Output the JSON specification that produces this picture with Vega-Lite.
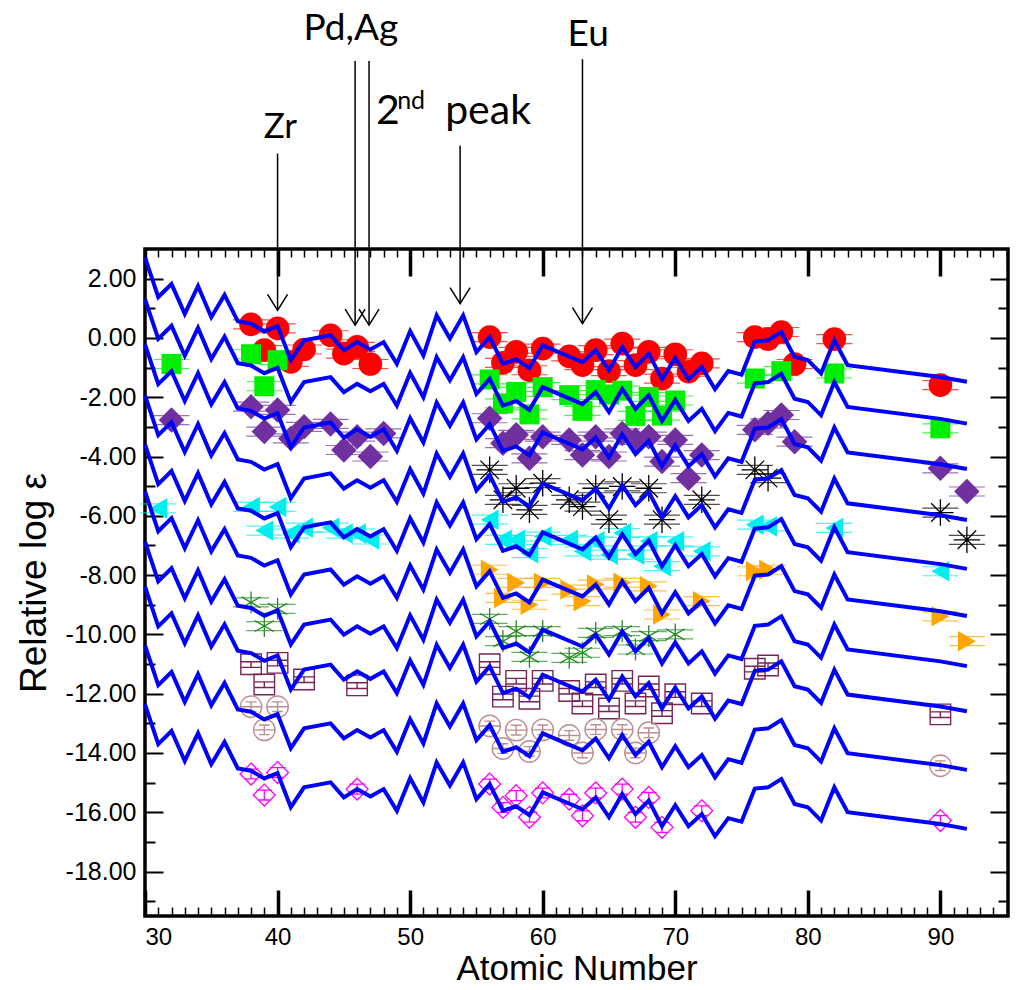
{
  "$schema": "https://vega.github.io/schema/vega-lite/v6.json",
  "width": 863,
  "height": 667,
  "autosize": {"type": "none"},
  "padding": {"left": 145, "top": 249, "right": 25, "bottom": 74},
  "background": "white",
  "config": {
    "view": {"stroke": "black", "strokeWidth": 3.5},
    "axis": {"grid": false, "domain": false, "tickColor": "black", "labelColor": "black", "titleColor": "black", "labelFont": "Liberation Sans", "titleFont": "Liberation Sans", "titleFontWeight": "normal"}
  },
  "resolve": {"axis": {"x": "independent", "y": "independent"}},
  "datasets": {
    "model": [
      {"Z":30,"c1":2.72,"c2":1.31,"c3":-0.22,"c4":-1.94,"c5":-3.59,"c6":-5.18,"c7":-6.87,"c8":-8.39,"c9":-10.37,"c10":-12.36},
      {"Z":31,"c1":1.38,"c2":-0.03,"c3":-1.56,"c4":-3.28,"c5":-4.93,"c6":-6.52,"c7":-8.21,"c8":-9.73,"c9":-11.71,"c10":-13.70},
      {"Z":32,"c1":1.82,"c2":0.41,"c3":-1.12,"c4":-2.84,"c5":-4.49,"c6":-6.08,"c7":-7.77,"c8":-9.29,"c9":-11.27,"c10":-13.26},
      {"Z":33,"c1":0.81,"c2":-0.60,"c3":-2.13,"c4":-3.85,"c5":-5.50,"c6":-7.09,"c7":-8.78,"c8":-10.30,"c9":-12.28,"c10":-14.27},
      {"Z":34,"c1":1.75,"c2":0.34,"c3":-1.19,"c4":-2.91,"c5":-4.56,"c6":-6.15,"c7":-7.84,"c8":-9.36,"c9":-11.34,"c10":-13.33},
      {"Z":35,"c1":0.70,"c2":-0.71,"c3":-2.24,"c4":-3.96,"c5":-5.61,"c6":-7.20,"c7":-8.89,"c8":-10.41,"c9":-12.39,"c10":-14.38},
      {"Z":36,"c1":1.45,"c2":0.04,"c3":-1.49,"c4":-3.21,"c5":-4.86,"c6":-6.45,"c7":-8.14,"c8":-9.66,"c9":-11.64,"c10":-13.63},
      {"Z":37,"c1":0.56,"c2":-0.85,"c3":-2.38,"c4":-4.10,"c5":-5.75,"c6":-7.34,"c7":-9.03,"c8":-10.55,"c9":-12.53,"c10":-14.52},
      {"Z":38,"c1":0.48,"c2":-0.93,"c3":-2.46,"c4":-4.18,"c5":-5.83,"c6":-7.42,"c7":-9.11,"c8":-10.63,"c9":-12.61,"c10":-14.60},
      {"Z":39,"c1":0.22,"c2":-1.19,"c3":-2.72,"c4":-4.44,"c5":-6.09,"c6":-7.68,"c7":-9.37,"c8":-10.89,"c9":-12.87,"c10":-14.86},
      {"Z":40,"c1":0.40,"c2":-1.01,"c3":-2.54,"c4":-4.26,"c5":-5.91,"c6":-7.50,"c7":-9.19,"c8":-10.71,"c9":-12.69,"c10":-14.68},
      {"Z":41,"c1":-0.75,"c2":-2.16,"c3":-3.69,"c4":-5.41,"c5":-7.06,"c6":-8.65,"c7":-10.34,"c8":-11.86,"c9":-13.84,"c10":-15.83},
      {"Z":42,"c1":-0.08,"c2":-1.49,"c3":-3.02,"c4":-4.74,"c5":-6.39,"c6":-7.98,"c7":-9.67,"c8":-11.19,"c9":-13.17,"c10":-15.16},
      {"Z":44,"c1":0.09,"c2":-1.32,"c3":-2.85,"c4":-4.57,"c5":-6.22,"c6":-7.81,"c7":-9.50,"c8":-11.02,"c9":-13.00,"c10":-14.99},
      {"Z":45,"c1":-0.42,"c2":-1.83,"c3":-3.36,"c4":-5.08,"c5":-6.73,"c6":-8.32,"c7":-10.01,"c8":-11.53,"c9":-13.51,"c10":-15.50},
      {"Z":46,"c1":-0.14,"c2":-1.55,"c3":-3.08,"c4":-4.80,"c5":-6.45,"c6":-8.04,"c7":-9.73,"c8":-11.25,"c9":-13.23,"c10":-15.22},
      {"Z":47,"c1":-0.39,"c2":-1.80,"c3":-3.33,"c4":-5.05,"c5":-6.70,"c6":-8.29,"c7":-9.98,"c8":-11.50,"c9":-13.48,"c10":-15.47},
      {"Z":48,"c1":-0.14,"c2":-1.55,"c3":-3.08,"c4":-4.80,"c5":-6.45,"c6":-8.04,"c7":-9.73,"c8":-11.25,"c9":-13.23,"c10":-15.22},
      {"Z":49,"c1":-0.87,"c2":-2.28,"c3":-3.81,"c4":-5.53,"c5":-7.18,"c6":-8.77,"c7":-10.46,"c8":-11.98,"c9":-13.96,"c10":-15.95},
      {"Z":50,"c1":0.23,"c2":-1.18,"c3":-2.71,"c4":-4.43,"c5":-6.08,"c6":-7.67,"c7":-9.36,"c8":-10.88,"c9":-12.86,"c10":-14.85},
      {"Z":51,"c1":-0.59,"c2":-2.00,"c3":-3.53,"c4":-5.25,"c5":-6.90,"c6":-8.49,"c7":-10.18,"c8":-11.70,"c9":-13.68,"c10":-15.67},
      {"Z":52,"c1":0.76,"c2":-0.65,"c3":-2.18,"c4":-3.90,"c5":-5.55,"c6":-7.14,"c7":-8.83,"c8":-10.35,"c9":-12.33,"c10":-14.32},
      {"Z":53,"c1":-0.02,"c2":-1.43,"c3":-2.96,"c4":-4.68,"c5":-6.33,"c6":-7.92,"c7":-9.61,"c8":-11.13,"c9":-13.11,"c10":-15.10},
      {"Z":54,"c1":0.76,"c2":-0.65,"c3":-2.18,"c4":-3.90,"c5":-5.55,"c6":-7.14,"c7":-8.83,"c8":-10.35,"c9":-12.33,"c10":-14.32},
      {"Z":55,"c1":-0.48,"c2":-1.89,"c3":-3.42,"c4":-5.14,"c5":-6.79,"c6":-8.38,"c7":-10.07,"c8":-11.59,"c9":-13.57,"c10":-15.56},
      {"Z":56,"c1":0.03,"c2":-1.38,"c3":-2.91,"c4":-4.63,"c5":-6.28,"c6":-7.87,"c7":-9.56,"c8":-11.08,"c9":-13.06,"c10":-15.05},
      {"Z":57,"c1":-0.87,"c2":-2.28,"c3":-3.81,"c4":-5.53,"c5":-7.18,"c6":-8.77,"c7":-10.46,"c8":-11.98,"c9":-13.96,"c10":-15.95},
      {"Z":58,"c1":-0.72,"c2":-2.13,"c3":-3.66,"c4":-5.38,"c5":-7.03,"c6":-8.62,"c7":-10.31,"c8":-11.83,"c9":-13.81,"c10":-15.80},
      {"Z":59,"c1":-1.02,"c2":-2.43,"c3":-3.96,"c4":-5.68,"c5":-7.33,"c6":-8.92,"c7":-10.61,"c8":-12.13,"c9":-14.11,"c10":-16.10},
      {"Z":60,"c1":-0.25,"c2":-1.66,"c3":-3.19,"c4":-4.91,"c5":-6.56,"c6":-8.15,"c7":-9.84,"c8":-11.36,"c9":-13.34,"c10":-15.33},
      {"Z":63,"c1":-0.82,"c2":-2.23,"c3":-3.76,"c4":-5.48,"c5":-7.13,"c6":-8.72,"c7":-10.41,"c8":-11.93,"c9":-13.91,"c10":-15.90},
      {"Z":64,"c1":-0.42,"c2":-1.83,"c3":-3.36,"c4":-5.08,"c5":-6.73,"c6":-8.32,"c7":-10.01,"c8":-11.53,"c9":-13.51,"c10":-15.50},
      {"Z":65,"c1":-1.09,"c2":-2.50,"c3":-4.03,"c4":-5.75,"c5":-7.40,"c6":-8.99,"c7":-10.68,"c8":-12.20,"c9":-14.18,"c10":-16.17},
      {"Z":66,"c1":-0.31,"c2":-1.72,"c3":-3.25,"c4":-4.97,"c5":-6.62,"c6":-8.21,"c7":-9.90,"c8":-11.42,"c9":-13.40,"c10":-15.39},
      {"Z":67,"c1":-0.98,"c2":-2.39,"c3":-3.92,"c4":-5.64,"c5":-7.29,"c6":-8.88,"c7":-10.57,"c8":-12.09,"c9":-14.07,"c10":-16.06},
      {"Z":68,"c1":-0.53,"c2":-1.94,"c3":-3.47,"c4":-5.19,"c5":-6.84,"c6":-8.43,"c7":-10.12,"c8":-11.64,"c9":-13.62,"c10":-15.61},
      {"Z":69,"c1":-1.39,"c2":-2.80,"c3":-4.33,"c4":-6.05,"c5":-7.70,"c6":-9.29,"c7":-10.98,"c8":-12.50,"c9":-14.48,"c10":-16.47},
      {"Z":70,"c1":-0.68,"c2":-2.09,"c3":-3.62,"c4":-5.34,"c5":-6.99,"c6":-8.58,"c7":-10.27,"c8":-11.79,"c9":-13.77,"c10":-15.76},
      {"Z":71,"c1":-1.39,"c2":-2.80,"c3":-4.33,"c4":-6.05,"c5":-7.70,"c6":-9.29,"c7":-10.98,"c8":-12.50,"c9":-14.48,"c10":-16.47},
      {"Z":72,"c1":-0.98,"c2":-2.39,"c3":-3.92,"c4":-5.64,"c5":-7.29,"c6":-8.88,"c7":-10.57,"c8":-12.09,"c9":-14.07,"c10":-16.06},
      {"Z":73,"c1":-1.73,"c2":-3.14,"c3":-4.67,"c4":-6.39,"c5":-8.04,"c6":-9.63,"c7":-11.32,"c8":-12.84,"c9":-14.82,"c10":-16.81},
      {"Z":74,"c1":-1.12,"c2":-2.53,"c3":-4.06,"c4":-5.78,"c5":-7.43,"c6":-9.02,"c7":-10.71,"c8":-12.23,"c9":-14.21,"c10":-16.20},
      {"Z":75,"c1":-1.24,"c2":-2.65,"c3":-4.18,"c4":-5.90,"c5":-7.55,"c6":-9.14,"c7":-10.83,"c8":-12.35,"c9":-14.33,"c10":-16.32},
      {"Z":76,"c1":-0.12,"c2":-1.53,"c3":-3.06,"c4":-4.78,"c5":-6.43,"c6":-8.02,"c7":-9.71,"c8":-11.23,"c9":-13.21,"c10":-15.20},
      {"Z":77,"c1":-0.08,"c2":-1.49,"c3":-3.02,"c4":-4.74,"c5":-6.39,"c6":-7.98,"c7":-9.67,"c8":-11.19,"c9":-13.17,"c10":-15.16},
      {"Z":78,"c1":0.20,"c2":-1.21,"c3":-2.74,"c4":-4.46,"c5":-6.11,"c6":-7.70,"c7":-9.39,"c8":-10.91,"c9":-12.89,"c10":-14.88},
      {"Z":79,"c1":-0.64,"c2":-2.05,"c3":-3.58,"c4":-5.30,"c5":-6.95,"c6":-8.54,"c7":-10.23,"c8":-11.75,"c9":-13.73,"c10":-15.72},
      {"Z":80,"c1":-0.75,"c2":-2.16,"c3":-3.69,"c4":-5.41,"c5":-7.06,"c6":-8.65,"c7":-10.34,"c8":-11.86,"c9":-13.84,"c10":-15.83},
      {"Z":81,"c1":-1.20,"c2":-2.61,"c3":-4.14,"c4":-5.86,"c5":-7.51,"c6":-9.10,"c7":-10.79,"c8":-12.31,"c9":-14.29,"c10":-16.28},
      {"Z":82,"c1":-0.08,"c2":-1.49,"c3":-3.02,"c4":-4.74,"c5":-6.39,"c6":-7.98,"c7":-9.67,"c8":-11.19,"c9":-13.17,"c10":-15.16},
      {"Z":83,"c1":-0.92,"c2":-2.33,"c3":-3.86,"c4":-5.58,"c5":-7.23,"c6":-8.82,"c7":-10.51,"c8":-12.03,"c9":-14.01,"c10":-16.00},
      {"Z":90,"c1":-1.32,"c2":-2.73,"c3":-4.26,"c4":-5.98,"c5":-7.63,"c6":-9.22,"c7":-10.91,"c8":-12.43,"c9":-14.41,"c10":-16.40},
      {"Z":92,"c1":-1.48,"c2":-2.89,"c3":-4.42,"c4":-6.14,"c5":-7.79,"c6":-9.38,"c7":-11.07,"c8":-12.59,"c9":-14.57,"c10":-16.56}
    ],
    "obs": [
      {"s":1,"Z":38,"v":0.46},{"s":1,"Z":39,"v":-0.41},{"s":1,"Z":40,"v":0.32},{"s":1,"Z":41,"v":-0.81},{"s":1,"Z":42,"v":-0.39},{"s":1,"Z":44,"v":0.09},{"s":1,"Z":45,"v":-0.53},{"s":1,"Z":46,"v":-0.30},{"s":1,"Z":47,"v":-0.88},{"s":1,"Z":56,"v":0.03},{"s":1,"Z":57,"v":-0.84},{"s":1,"Z":58,"v":-0.47},{"s":1,"Z":59,"v":-1.09},{"s":1,"Z":60,"v":-0.36},{"s":1,"Z":62,"v":-0.62},{"s":1,"Z":63,"v":-0.92},{"s":1,"Z":64,"v":-0.41},{"s":1,"Z":65,"v":-1.12},{"s":1,"Z":66,"v":-0.19},{"s":1,"Z":67,"v":-0.92},{"s":1,"Z":68,"v":-0.47},{"s":1,"Z":69,"v":-1.37},{"s":1,"Z":70,"v":-0.55},{"s":1,"Z":71,"v":-1.14},{"s":1,"Z":72,"v":-0.86},{"s":1,"Z":76,"v":0.03},{"s":1,"Z":77,"v":-0.04},{"s":1,"Z":78,"v":0.20},{"s":1,"Z":79,"v":-0.88},{"s":1,"Z":82,"v":-0.04},{"s":1,"Z":90,"v":-1.59},
      {"s":2,"Z":32,"v":-0.88},{"s":2,"Z":38,"v":-0.55},{"s":2,"Z":39,"v":-1.63},{"s":2,"Z":40,"v":-0.75},{"s":2,"Z":56,"v":-1.40},{"s":2,"Z":57,"v":-2.21},{"s":2,"Z":58,"v":-1.82},{"s":2,"Z":59,"v":-2.58},{"s":2,"Z":60,"v":-1.66},{"s":2,"Z":62,"v":-1.93},{"s":2,"Z":63,"v":-2.46},{"s":2,"Z":64,"v":-1.76},{"s":2,"Z":65,"v":-1.91},{"s":2,"Z":66,"v":-1.78},{"s":2,"Z":67,"v":-2.63},{"s":2,"Z":68,"v":-1.99},{"s":2,"Z":69,"v":-2.62},{"s":2,"Z":70,"v":-2.11},{"s":2,"Z":76,"v":-1.37},{"s":2,"Z":78,"v":-1.12},{"s":2,"Z":82,"v":-1.20},{"s":2,"Z":90,"v":-3.05},
      {"s":3,"Z":32,"v":-2.77},{"s":3,"Z":38,"v":-2.32},{"s":3,"Z":39,"v":-3.16},{"s":3,"Z":40,"v":-2.43},{"s":3,"Z":41,"v":-3.39},{"s":3,"Z":42,"v":-3.0},{"s":3,"Z":44,"v":-2.9},{"s":3,"Z":45,"v":-3.78},{"s":3,"Z":46,"v":-3.33},{"s":3,"Z":47,"v":-4.0},{"s":3,"Z":48,"v":-3.22},{"s":3,"Z":56,"v":-2.71},{"s":3,"Z":57,"v":-3.55},{"s":3,"Z":58,"v":-3.27},{"s":3,"Z":59,"v":-4.06},{"s":3,"Z":60,"v":-3.33},{"s":3,"Z":62,"v":-3.44},{"s":3,"Z":63,"v":-3.95},{"s":3,"Z":64,"v":-3.33},{"s":3,"Z":65,"v":-4.0},{"s":3,"Z":66,"v":-3.22},{"s":3,"Z":67,"v":-3.44},{"s":3,"Z":68,"v":-3.33},{"s":3,"Z":69,"v":-4.17},{"s":3,"Z":70,"v":-3.44},{"s":3,"Z":71,"v":-4.73},{"s":3,"Z":72,"v":-3.95},{"s":3,"Z":76,"v":-3.1},{"s":3,"Z":77,"v":-2.88},{"s":3,"Z":78,"v":-2.6},{"s":3,"Z":79,"v":-3.5},{"s":3,"Z":90,"v":-4.4},{"s":3,"Z":92,"v":-5.18},
      {"s":4,"Z":56,"v":-4.45},{"s":4,"Z":57,"v":-5.46},{"s":4,"Z":58,"v":-5.07},{"s":4,"Z":59,"v":-5.8},{"s":4,"Z":60,"v":-4.9},{"s":4,"Z":62,"v":-5.46},{"s":4,"Z":63,"v":-5.69},{"s":4,"Z":64,"v":-5.07},{"s":4,"Z":65,"v":-6.13},{"s":4,"Z":66,"v":-5.01},{"s":4,"Z":68,"v":-5.07},{"s":4,"Z":69,"v":-6.13},{"s":4,"Z":72,"v":-5.46},{"s":4,"Z":76,"v":-4.45},{"s":4,"Z":77,"v":-4.73},{"s":4,"Z":90,"v":-5.89},{"s":4,"Z":92,"v":-6.81},
      {"s":5,"Z":31,"v":-5.75},{"s":5,"Z":38,"v":-5.7},{"s":5,"Z":39,"v":-6.5},{"s":5,"Z":40,"v":-5.7},{"s":5,"Z":41,"v":-6.6},{"s":5,"Z":42,"v":-6.4},{"s":5,"Z":44,"v":-6.4},{"s":5,"Z":45,"v":-6.6},{"s":5,"Z":46,"v":-6.6},{"s":5,"Z":47,"v":-6.8},{"s":5,"Z":56,"v":-6.13},{"s":5,"Z":57,"v":-6.81},{"s":5,"Z":58,"v":-6.81},{"s":5,"Z":59,"v":-7.26},{"s":5,"Z":60,"v":-6.7},{"s":5,"Z":62,"v":-6.81},{"s":5,"Z":63,"v":-7.2},{"s":5,"Z":64,"v":-6.86},{"s":5,"Z":65,"v":-7.31},{"s":5,"Z":66,"v":-6.58},{"s":5,"Z":67,"v":-7.31},{"s":5,"Z":68,"v":-6.86},{"s":5,"Z":69,"v":-7.7},{"s":5,"Z":70,"v":-6.86},{"s":5,"Z":72,"v":-7.2},{"s":5,"Z":76,"v":-6.3},{"s":5,"Z":77,"v":-6.36},{"s":5,"Z":82,"v":-6.41},{"s":5,"Z":90,"v":-7.87},
      {"s":6,"Z":56,"v":-7.82},{"s":6,"Z":57,"v":-8.77},{"s":6,"Z":58,"v":-8.26},{"s":6,"Z":59,"v":-9.0},{"s":6,"Z":60,"v":-8.26},{"s":6,"Z":62,"v":-8.49},{"s":6,"Z":63,"v":-8.88},{"s":6,"Z":64,"v":-8.32},{"s":6,"Z":66,"v":-8.26},{"s":6,"Z":68,"v":-8.38},{"s":6,"Z":69,"v":-9.33},{"s":6,"Z":72,"v":-8.88},{"s":6,"Z":76,"v":-7.87},{"s":6,"Z":77,"v":-7.82},{"s":6,"Z":90,"v":-9.39},{"s":6,"Z":92,"v":-10.23},
      {"s":7,"Z":38,"v":-8.92},{"s":7,"Z":39,"v":-9.72},{"s":7,"Z":40,"v":-9.14},{"s":7,"Z":56,"v":-9.48},{"s":7,"Z":57,"v":-10.23},{"s":7,"Z":58,"v":-9.89},{"s":7,"Z":59,"v":-10.76},{"s":7,"Z":60,"v":-9.89},{"s":7,"Z":62,"v":-10.79},{"s":7,"Z":63,"v":-10.62},{"s":7,"Z":64,"v":-9.95},{"s":7,"Z":66,"v":-9.89},{"s":7,"Z":67,"v":-10.51},{"s":7,"Z":68,"v":-10.06},{"s":7,"Z":70,"v":-10.0},
      {"s":8,"Z":38,"v":-11.01},{"s":8,"Z":39,"v":-11.69},{"s":8,"Z":40,"v":-10.96},{"s":8,"Z":42,"v":-11.52},{"s":8,"Z":46,"v":-11.72},{"s":8,"Z":56,"v":-11.01},{"s":8,"Z":57,"v":-12.1},{"s":8,"Z":58,"v":-11.57},{"s":8,"Z":59,"v":-12.17},{"s":8,"Z":60,"v":-11.57},{"s":8,"Z":62,"v":-11.91},{"s":8,"Z":63,"v":-12.33},{"s":8,"Z":64,"v":-11.69},{"s":8,"Z":65,"v":-12.5},{"s":8,"Z":66,"v":-11.57},{"s":8,"Z":67,"v":-12.33},{"s":8,"Z":68,"v":-11.76},{"s":8,"Z":69,"v":-12.66},{"s":8,"Z":70,"v":-12.02},{"s":8,"Z":72,"v":-12.33},{"s":8,"Z":76,"v":-11.16},{"s":8,"Z":77,"v":-11.05},{"s":8,"Z":90,"v":-12.7},
      {"s":9,"Z":38,"v":-12.44},{"s":9,"Z":39,"v":-13.22},{"s":9,"Z":40,"v":-12.44},{"s":9,"Z":56,"v":-13.09},{"s":9,"Z":57,"v":-13.85},{"s":9,"Z":58,"v":-13.23},{"s":9,"Z":59,"v":-13.95},{"s":9,"Z":60,"v":-13.22},{"s":9,"Z":62,"v":-13.41},{"s":9,"Z":63,"v":-14.0},{"s":9,"Z":64,"v":-13.21},{"s":9,"Z":66,"v":-13.21},{"s":9,"Z":67,"v":-14.0},{"s":9,"Z":68,"v":-13.32},{"s":9,"Z":90,"v":-14.43},
      {"s":10,"Z":38,"v":-14.71},{"s":10,"Z":39,"v":-15.42},{"s":10,"Z":40,"v":-14.66},{"s":10,"Z":46,"v":-15.22},{"s":10,"Z":56,"v":-15.05},{"s":10,"Z":57,"v":-15.84},{"s":10,"Z":58,"v":-15.44},{"s":10,"Z":59,"v":-16.17},{"s":10,"Z":60,"v":-15.35},{"s":10,"Z":62,"v":-15.56},{"s":10,"Z":63,"v":-16.12},{"s":10,"Z":64,"v":-15.35},{"s":10,"Z":66,"v":-15.22},{"s":10,"Z":67,"v":-16.17},{"s":10,"Z":68,"v":-15.5},{"s":10,"Z":69,"v":-16.51},{"s":10,"Z":72,"v":-15.95},{"s":10,"Z":90,"v":-16.28}
    ],
    "arrows": [
      {"Z":40,"top":6.22,"tip":0.93},
      {"Z":45.85,"top":9.34,"tip":0.43},
      {"Z":46.9,"top":9.34,"tip":0.43},
      {"Z":53.77,"top":6.48,"tip":1.16},
      {"Z":63.0,"top":9.4,"tip":0.48}
    ],
    "bigtext": [
      {"t":"Pd,Ag","Z":45.53,"v":10.05},
      {"t":"Eu","Z":63.43,"v":9.85}
    ],
    "lefttext": [
      {"t":"2","Z":47.43,"v":7.22},
      {"t":"peak","Z":52.64,"v":7.22}
    ],
    "suptext": [{"t":"nd","Z":49.02,"v":7.73}],
    "zrtext": [{"t":"Zr","Z":40.21,"v":6.76}]
  },
  "layer": [
    {
      "data": {"name": "obs"},
      "transform": [{"filter": "datum.s <= 7"}],
      "mark": {"type": "tick", "orient": "horizontal", "size": 36, "thickness": 1.2, "yOffset": -4.5},
      "encoding": {
        "x": {"field": "Z", "type": "quantitative", "scale": {"domain": [30, 95.1], "nice": false, "zero": false},
              "axis": {"orient": "bottom", "values": [30,40,50,60,70,80,90], "labels": false, "title": null, "tickSize": -26, "tickWidth": 3.5}},
        "y": {"field": "v", "type": "quantitative", "scale": {"domain": [-19.5, 3], "nice": false, "zero": false},
              "axis": {"orient": "left", "values": [-18,-16,-14,-12,-10,-8,-6,-4,-2,0,2], "labels": false, "title": null, "tickSize": -18, "tickWidth": 2}},
        "color": {"field": "s", "type": "nominal", "legend": null,
                  "scale": {"domain": [1,2,3,4,5,6,7], "range": ["#ff0000","#00ee00","#7030a0","#000000","#00eeee","#ffa500","#228b22"]}}
      }
    },
    {
      "data": {"name": "obs"},
      "transform": [{"filter": "datum.s <= 7"}],
      "mark": {"type": "tick", "orient": "horizontal", "size": 36, "thickness": 1.2, "yOffset": 4.5},
      "encoding": {
        "x": {"field": "Z", "type": "quantitative",
              "axis": {"orient": "bottom", "values": [31,32,33,34,35,36,37,38,39,41,42,43,44,45,46,47,48,49,51,52,53,54,55,56,57,58,59,61,62,63,64,65,66,67,68,69,71,72,73,74,75,76,77,78,79,81,82,83,84,85,86,87,88,89,91,92,93,94,95], "labels": false, "title": null, "tickSize": -9, "tickWidth": 1.5}},
        "y": {"field": "v", "type": "quantitative",
              "axis": {"orient": "left", "values": [-19,-17,-15,-13,-11,-9,-7,-5,-3,-1,1], "labels": false, "title": null, "tickSize": -10, "tickWidth": 2}},
        "color": {"field": "s", "type": "nominal", "legend": null}
      }
    },
    {
      "data": {"name": "obs"},
      "transform": [{"filter": "datum.s == 1"}],
      "mark": {"type": "point", "shape": "circle", "filled": true, "fill": "#ff0000", "size": 560, "opacity": 1},
      "encoding": {
        "x": {"field": "Z", "type": "quantitative",
              "axis": {"orient": "top", "values": [30,40,50,60,70,80,90], "labels": false, "title": null, "tickSize": -27, "tickWidth": 3.5}},
        "y": {"field": "v", "type": "quantitative",
              "axis": {"orient": "right", "values": [-18,-16,-14,-12,-10,-8,-6,-4,-2,0,2], "labels": false, "title": null, "tickSize": -18, "tickWidth": 2}}
      }
    },
    {
      "data": {"name": "obs"},
      "transform": [{"filter": "datum.s == 2"}],
      "mark": {"type": "point", "shape": "square", "filled": true, "fill": "#00ee00", "size": 400, "opacity": 1},
      "encoding": {
        "x": {"field": "Z", "type": "quantitative",
              "axis": {"orient": "top", "values": [31,32,33,34,35,36,37,38,39,41,42,43,44,45,46,47,48,49,51,52,53,54,55,56,57,58,59,61,62,63,64,65,66,67,68,69,71,72,73,74,75,76,77,78,79,81,82,83,84,85,86,87,88,89,91,92,93,94,95], "labels": false, "title": null, "tickSize": -8, "tickWidth": 1.5}},
        "y": {"field": "v", "type": "quantitative",
              "axis": {"orient": "right", "values": [-19,-17,-15,-13,-11,-9,-7,-5,-3,-1,1], "labels": false, "title": null, "tickSize": -10, "tickWidth": 2}}
      }
    },
    {
      "data": {"name": "obs"},
      "transform": [{"filter": "datum.s == 3"}],
      "mark": {"type": "point", "shape": "diamond", "filled": true, "fill": "#7030a0", "size": 650, "opacity": 1},
      "encoding": {"x": {"field": "Z", "type": "quantitative", "axis": null}, "y": {"field": "v", "type": "quantitative", "axis": null}}
    },
    {
      "data": {"name": "obs"},
      "transform": [{"filter": "datum.s == 4"}],
      "mark": {"type": "point", "shape": "M-1,0L1,0M0,-1L0,1M-0.7,-0.7L0.7,0.7M-0.7,0.7L0.7,-0.7", "filled": false, "stroke": "#000000", "strokeWidth": 1.3, "size": 700, "opacity": 1},
      "encoding": {"x": {"field": "Z", "type": "quantitative", "axis": null}, "y": {"field": "v", "type": "quantitative", "axis": null}}
    },
    {
      "data": {"name": "obs"},
      "transform": [{"filter": "datum.s == 5"}],
      "mark": {"type": "point", "shape": "triangle-left", "filled": true, "fill": "#00eeee", "size": 420, "opacity": 1},
      "encoding": {"x": {"field": "Z", "type": "quantitative", "axis": null}, "y": {"field": "v", "type": "quantitative", "axis": null}}
    },
    {
      "data": {"name": "obs"},
      "transform": [{"filter": "datum.s == 6"}],
      "mark": {"type": "point", "shape": "triangle-right", "filled": true, "fill": "#ffa500", "size": 420, "opacity": 1},
      "encoding": {"x": {"field": "Z", "type": "quantitative", "axis": null}, "y": {"field": "v", "type": "quantitative", "axis": null}}
    },
    {
      "data": {"name": "obs"},
      "transform": [{"filter": "datum.s == 7"}],
      "mark": {"type": "point", "shape": "M0,-1L0,1M-0.87,-0.5L0.87,0.5M-0.87,0.5L0.87,-0.5", "filled": false, "stroke": "#228b22", "strokeWidth": 1.3, "size": 480, "opacity": 1},
      "encoding": {"x": {"field": "Z", "type": "quantitative", "axis": null}, "y": {"field": "v", "type": "quantitative", "axis": null}}
    },
    {
      "data": {"name": "obs"},
      "transform": [{"filter": "datum.s == 8"}],
      "mark": {"type": "point", "shape": "M-1,-1L1,-1L1,1L-1,1ZM-1,-0.25L1,-0.25M-1,0.3L1,0.3M0,-0.25L0,0.3", "filled": false, "stroke": "#7a2356", "strokeWidth": 1.4, "size": 420, "opacity": 1},
      "encoding": {"x": {"field": "Z", "type": "quantitative", "axis": null}, "y": {"field": "v", "type": "quantitative", "axis": null}}
    },
    {
      "data": {"name": "obs"},
      "transform": [{"filter": "datum.s == 9"}],
      "mark": {"type": "point", "shape": "M-1,0A1,1,0,1,0,1,0A1,1,0,1,0,-1,0ZM-0.5,-0.45L0.5,-0.45M-0.5,0.45L0.5,0.45M0,-0.45L0,0.45M-1,0L1,0", "filled": false, "stroke": "#bc8f8f", "strokeWidth": 1.4, "size": 460, "opacity": 1},
      "encoding": {"x": {"field": "Z", "type": "quantitative", "axis": null}, "y": {"field": "v", "type": "quantitative", "axis": null}}
    },
    {
      "data": {"name": "obs"},
      "transform": [{"filter": "datum.s == 10"}],
      "mark": {"type": "point", "shape": "M0,-1L1,0L0,1L-1,0ZM-0.7,-0.45L0.7,-0.45M0,-0.45L0,0.45M-0.5,0.45L0.5,0.45", "filled": false, "stroke": "#ff00ff", "strokeWidth": 1.3, "size": 480, "opacity": 1},
      "encoding": {"x": {"field": "Z", "type": "quantitative", "axis": null}, "y": {"field": "v", "type": "quantitative", "axis": null}}
    },
    {
      "data": {"name": "model"},
      "transform": [{"fold": ["c1","c2","c3","c4","c5","c6","c7","c8","c9","c10"], "as": ["curve", "val"]}],
      "mark": {"type": "line", "color": "#0000ff", "strokeWidth": 4, "strokeJoin": "miter"},
      "encoding": {
        "x": {"field": "Z", "type": "quantitative",
              "axis": {"orient": "bottom", "values": [30,40,50,60,70,80,90], "ticks": false, "labelFontSize": 24, "labelPadding": 9, "format": "d", "title": "Atomic Number", "titleFontSize": 35, "titlePadding": 2}},
        "y": {"field": "val", "type": "quantitative",
              "axis": {"orient": "left", "values": [-18,-16,-14,-12,-10,-8,-6,-4,-2,0,2], "ticks": false, "labelFontSize": 25, "labelPadding": 9, "format": ".2f", "labelExpr": "replace(datum.label, '\u2212', '-')", "title": "Relative log ε", "titleFontSize": 37, "titlePadding": 12}},
        "detail": {"field": "curve", "type": "nominal"}
      }
    },
    {
      "data": {"name": "arrows"},
      "mark": {"type": "rule", "color": "black", "strokeWidth": 1.5},
      "encoding": {
        "x": {"field": "Z", "type": "quantitative", "axis": null},
        "y": {"field": "top", "type": "quantitative", "axis": null},
        "y2": {"field": "tip"}
      }
    },
    {
      "data": {"name": "arrows"},
      "mark": {"type": "point", "shape": "M-1,-1.6L0,0L1,-1.6", "filled": false, "stroke": "black", "strokeWidth": 1.5, "size": 400, "opacity": 1},
      "encoding": {
        "x": {"field": "Z", "type": "quantitative", "axis": null},
        "y": {"field": "tip", "type": "quantitative", "axis": null}
      }
    },
    {
      "data": {"name": "bigtext"},
      "mark": {"type": "text", "font": "Lato", "fontSize": 37, "align": "center", "baseline": "alphabetic", "color": "black"},
      "encoding": {
        "x": {"field": "Z", "type": "quantitative", "axis": null},
        "y": {"field": "v", "type": "quantitative", "axis": null},
        "text": {"field": "t"}
      }
    },
    {
      "data": {"name": "lefttext"},
      "mark": {"type": "text", "font": "Lato", "fontSize": 41, "align": "left", "baseline": "alphabetic", "color": "black"},
      "encoding": {
        "x": {"field": "Z", "type": "quantitative", "axis": null},
        "y": {"field": "v", "type": "quantitative", "axis": null},
        "text": {"field": "t"}
      }
    },
    {
      "data": {"name": "suptext"},
      "mark": {"type": "text", "font": "Lato", "fontSize": 25, "align": "left", "baseline": "alphabetic", "color": "black"},
      "encoding": {
        "x": {"field": "Z", "type": "quantitative", "axis": null},
        "y": {"field": "v", "type": "quantitative", "axis": null},
        "text": {"field": "t"}
      }
    },
    {
      "data": {"name": "zrtext"},
      "mark": {"type": "text", "font": "Lato", "fontSize": 35, "align": "center", "baseline": "alphabetic", "color": "black"},
      "encoding": {
        "x": {"field": "Z", "type": "quantitative", "axis": null},
        "y": {"field": "v", "type": "quantitative", "axis": null},
        "text": {"field": "t"}
      }
    }
  ]
}
